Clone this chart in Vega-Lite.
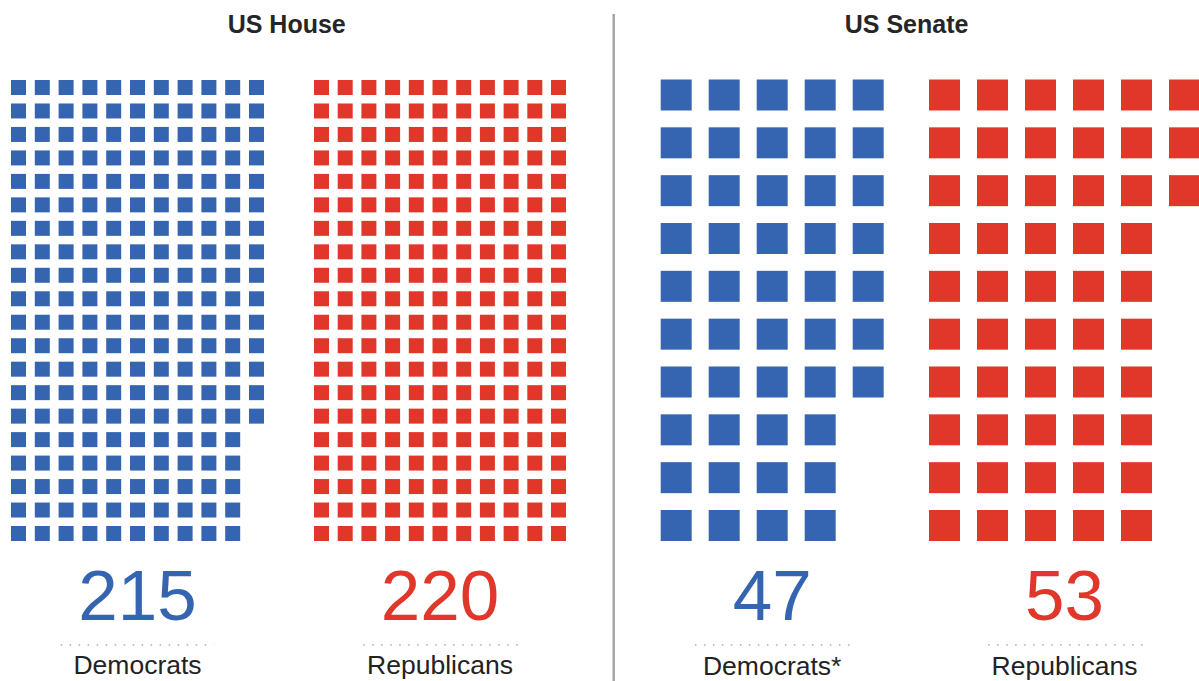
{
  "$schema": "https://vega.github.io/schema/vega-lite/v6.json",
  "width": 1199,
  "height": 681,
  "autosize": {"type": "none"},
  "padding": 0,
  "background": "white",
  "config": {"view": {"stroke": null}, "font": "Liberation Sans"},
  "datasets": {
    "hd": [
      {"r":0,"c":0},{"r":0,"c":1},{"r":0,"c":2},{"r":0,"c":3},{"r":0,"c":4},{"r":0,"c":5},{"r":0,"c":6},{"r":0,"c":7},{"r":0,"c":8},{"r":0,"c":9},{"r":0,"c":10},
      {"r":1,"c":0},{"r":1,"c":1},{"r":1,"c":2},{"r":1,"c":3},{"r":1,"c":4},{"r":1,"c":5},{"r":1,"c":6},{"r":1,"c":7},{"r":1,"c":8},{"r":1,"c":9},{"r":1,"c":10},
      {"r":2,"c":0},{"r":2,"c":1},{"r":2,"c":2},{"r":2,"c":3},{"r":2,"c":4},{"r":2,"c":5},{"r":2,"c":6},{"r":2,"c":7},{"r":2,"c":8},{"r":2,"c":9},{"r":2,"c":10},
      {"r":3,"c":0},{"r":3,"c":1},{"r":3,"c":2},{"r":3,"c":3},{"r":3,"c":4},{"r":3,"c":5},{"r":3,"c":6},{"r":3,"c":7},{"r":3,"c":8},{"r":3,"c":9},{"r":3,"c":10},
      {"r":4,"c":0},{"r":4,"c":1},{"r":4,"c":2},{"r":4,"c":3},{"r":4,"c":4},{"r":4,"c":5},{"r":4,"c":6},{"r":4,"c":7},{"r":4,"c":8},{"r":4,"c":9},{"r":4,"c":10},
      {"r":5,"c":0},{"r":5,"c":1},{"r":5,"c":2},{"r":5,"c":3},{"r":5,"c":4},{"r":5,"c":5},{"r":5,"c":6},{"r":5,"c":7},{"r":5,"c":8},{"r":5,"c":9},{"r":5,"c":10},
      {"r":6,"c":0},{"r":6,"c":1},{"r":6,"c":2},{"r":6,"c":3},{"r":6,"c":4},{"r":6,"c":5},{"r":6,"c":6},{"r":6,"c":7},{"r":6,"c":8},{"r":6,"c":9},{"r":6,"c":10},
      {"r":7,"c":0},{"r":7,"c":1},{"r":7,"c":2},{"r":7,"c":3},{"r":7,"c":4},{"r":7,"c":5},{"r":7,"c":6},{"r":7,"c":7},{"r":7,"c":8},{"r":7,"c":9},{"r":7,"c":10},
      {"r":8,"c":0},{"r":8,"c":1},{"r":8,"c":2},{"r":8,"c":3},{"r":8,"c":4},{"r":8,"c":5},{"r":8,"c":6},{"r":8,"c":7},{"r":8,"c":8},{"r":8,"c":9},{"r":8,"c":10},
      {"r":9,"c":0},{"r":9,"c":1},{"r":9,"c":2},{"r":9,"c":3},{"r":9,"c":4},{"r":9,"c":5},{"r":9,"c":6},{"r":9,"c":7},{"r":9,"c":8},{"r":9,"c":9},{"r":9,"c":10},
      {"r":10,"c":0},{"r":10,"c":1},{"r":10,"c":2},{"r":10,"c":3},{"r":10,"c":4},{"r":10,"c":5},{"r":10,"c":6},{"r":10,"c":7},{"r":10,"c":8},{"r":10,"c":9},{"r":10,"c":10},
      {"r":11,"c":0},{"r":11,"c":1},{"r":11,"c":2},{"r":11,"c":3},{"r":11,"c":4},{"r":11,"c":5},{"r":11,"c":6},{"r":11,"c":7},{"r":11,"c":8},{"r":11,"c":9},{"r":11,"c":10},
      {"r":12,"c":0},{"r":12,"c":1},{"r":12,"c":2},{"r":12,"c":3},{"r":12,"c":4},{"r":12,"c":5},{"r":12,"c":6},{"r":12,"c":7},{"r":12,"c":8},{"r":12,"c":9},{"r":12,"c":10},
      {"r":13,"c":0},{"r":13,"c":1},{"r":13,"c":2},{"r":13,"c":3},{"r":13,"c":4},{"r":13,"c":5},{"r":13,"c":6},{"r":13,"c":7},{"r":13,"c":8},{"r":13,"c":9},{"r":13,"c":10},
      {"r":14,"c":0},{"r":14,"c":1},{"r":14,"c":2},{"r":14,"c":3},{"r":14,"c":4},{"r":14,"c":5},{"r":14,"c":6},{"r":14,"c":7},{"r":14,"c":8},{"r":14,"c":9},{"r":14,"c":10},
      {"r":15,"c":0},{"r":15,"c":1},{"r":15,"c":2},{"r":15,"c":3},{"r":15,"c":4},{"r":15,"c":5},{"r":15,"c":6},{"r":15,"c":7},{"r":15,"c":8},{"r":15,"c":9},
      {"r":16,"c":0},{"r":16,"c":1},{"r":16,"c":2},{"r":16,"c":3},{"r":16,"c":4},{"r":16,"c":5},{"r":16,"c":6},{"r":16,"c":7},{"r":16,"c":8},{"r":16,"c":9},
      {"r":17,"c":0},{"r":17,"c":1},{"r":17,"c":2},{"r":17,"c":3},{"r":17,"c":4},{"r":17,"c":5},{"r":17,"c":6},{"r":17,"c":7},{"r":17,"c":8},{"r":17,"c":9},
      {"r":18,"c":0},{"r":18,"c":1},{"r":18,"c":2},{"r":18,"c":3},{"r":18,"c":4},{"r":18,"c":5},{"r":18,"c":6},{"r":18,"c":7},{"r":18,"c":8},{"r":18,"c":9},
      {"r":19,"c":0},{"r":19,"c":1},{"r":19,"c":2},{"r":19,"c":3},{"r":19,"c":4},{"r":19,"c":5},{"r":19,"c":6},{"r":19,"c":7},{"r":19,"c":8},{"r":19,"c":9}
    ],
    "hr": [
      {"r":0,"c":0},{"r":0,"c":1},{"r":0,"c":2},{"r":0,"c":3},{"r":0,"c":4},{"r":0,"c":5},{"r":0,"c":6},{"r":0,"c":7},{"r":0,"c":8},{"r":0,"c":9},{"r":0,"c":10},
      {"r":1,"c":0},{"r":1,"c":1},{"r":1,"c":2},{"r":1,"c":3},{"r":1,"c":4},{"r":1,"c":5},{"r":1,"c":6},{"r":1,"c":7},{"r":1,"c":8},{"r":1,"c":9},{"r":1,"c":10},
      {"r":2,"c":0},{"r":2,"c":1},{"r":2,"c":2},{"r":2,"c":3},{"r":2,"c":4},{"r":2,"c":5},{"r":2,"c":6},{"r":2,"c":7},{"r":2,"c":8},{"r":2,"c":9},{"r":2,"c":10},
      {"r":3,"c":0},{"r":3,"c":1},{"r":3,"c":2},{"r":3,"c":3},{"r":3,"c":4},{"r":3,"c":5},{"r":3,"c":6},{"r":3,"c":7},{"r":3,"c":8},{"r":3,"c":9},{"r":3,"c":10},
      {"r":4,"c":0},{"r":4,"c":1},{"r":4,"c":2},{"r":4,"c":3},{"r":4,"c":4},{"r":4,"c":5},{"r":4,"c":6},{"r":4,"c":7},{"r":4,"c":8},{"r":4,"c":9},{"r":4,"c":10},
      {"r":5,"c":0},{"r":5,"c":1},{"r":5,"c":2},{"r":5,"c":3},{"r":5,"c":4},{"r":5,"c":5},{"r":5,"c":6},{"r":5,"c":7},{"r":5,"c":8},{"r":5,"c":9},{"r":5,"c":10},
      {"r":6,"c":0},{"r":6,"c":1},{"r":6,"c":2},{"r":6,"c":3},{"r":6,"c":4},{"r":6,"c":5},{"r":6,"c":6},{"r":6,"c":7},{"r":6,"c":8},{"r":6,"c":9},{"r":6,"c":10},
      {"r":7,"c":0},{"r":7,"c":1},{"r":7,"c":2},{"r":7,"c":3},{"r":7,"c":4},{"r":7,"c":5},{"r":7,"c":6},{"r":7,"c":7},{"r":7,"c":8},{"r":7,"c":9},{"r":7,"c":10},
      {"r":8,"c":0},{"r":8,"c":1},{"r":8,"c":2},{"r":8,"c":3},{"r":8,"c":4},{"r":8,"c":5},{"r":8,"c":6},{"r":8,"c":7},{"r":8,"c":8},{"r":8,"c":9},{"r":8,"c":10},
      {"r":9,"c":0},{"r":9,"c":1},{"r":9,"c":2},{"r":9,"c":3},{"r":9,"c":4},{"r":9,"c":5},{"r":9,"c":6},{"r":9,"c":7},{"r":9,"c":8},{"r":9,"c":9},{"r":9,"c":10},
      {"r":10,"c":0},{"r":10,"c":1},{"r":10,"c":2},{"r":10,"c":3},{"r":10,"c":4},{"r":10,"c":5},{"r":10,"c":6},{"r":10,"c":7},{"r":10,"c":8},{"r":10,"c":9},{"r":10,"c":10},
      {"r":11,"c":0},{"r":11,"c":1},{"r":11,"c":2},{"r":11,"c":3},{"r":11,"c":4},{"r":11,"c":5},{"r":11,"c":6},{"r":11,"c":7},{"r":11,"c":8},{"r":11,"c":9},{"r":11,"c":10},
      {"r":12,"c":0},{"r":12,"c":1},{"r":12,"c":2},{"r":12,"c":3},{"r":12,"c":4},{"r":12,"c":5},{"r":12,"c":6},{"r":12,"c":7},{"r":12,"c":8},{"r":12,"c":9},{"r":12,"c":10},
      {"r":13,"c":0},{"r":13,"c":1},{"r":13,"c":2},{"r":13,"c":3},{"r":13,"c":4},{"r":13,"c":5},{"r":13,"c":6},{"r":13,"c":7},{"r":13,"c":8},{"r":13,"c":9},{"r":13,"c":10},
      {"r":14,"c":0},{"r":14,"c":1},{"r":14,"c":2},{"r":14,"c":3},{"r":14,"c":4},{"r":14,"c":5},{"r":14,"c":6},{"r":14,"c":7},{"r":14,"c":8},{"r":14,"c":9},{"r":14,"c":10},
      {"r":15,"c":0},{"r":15,"c":1},{"r":15,"c":2},{"r":15,"c":3},{"r":15,"c":4},{"r":15,"c":5},{"r":15,"c":6},{"r":15,"c":7},{"r":15,"c":8},{"r":15,"c":9},{"r":15,"c":10},
      {"r":16,"c":0},{"r":16,"c":1},{"r":16,"c":2},{"r":16,"c":3},{"r":16,"c":4},{"r":16,"c":5},{"r":16,"c":6},{"r":16,"c":7},{"r":16,"c":8},{"r":16,"c":9},{"r":16,"c":10},
      {"r":17,"c":0},{"r":17,"c":1},{"r":17,"c":2},{"r":17,"c":3},{"r":17,"c":4},{"r":17,"c":5},{"r":17,"c":6},{"r":17,"c":7},{"r":17,"c":8},{"r":17,"c":9},{"r":17,"c":10},
      {"r":18,"c":0},{"r":18,"c":1},{"r":18,"c":2},{"r":18,"c":3},{"r":18,"c":4},{"r":18,"c":5},{"r":18,"c":6},{"r":18,"c":7},{"r":18,"c":8},{"r":18,"c":9},{"r":18,"c":10},
      {"r":19,"c":0},{"r":19,"c":1},{"r":19,"c":2},{"r":19,"c":3},{"r":19,"c":4},{"r":19,"c":5},{"r":19,"c":6},{"r":19,"c":7},{"r":19,"c":8},{"r":19,"c":9},{"r":19,"c":10}
    ],
    "sd": [
      {"r":0,"c":0},{"r":0,"c":1},{"r":0,"c":2},{"r":0,"c":3},{"r":0,"c":4},
      {"r":1,"c":0},{"r":1,"c":1},{"r":1,"c":2},{"r":1,"c":3},{"r":1,"c":4},
      {"r":2,"c":0},{"r":2,"c":1},{"r":2,"c":2},{"r":2,"c":3},{"r":2,"c":4},
      {"r":3,"c":0},{"r":3,"c":1},{"r":3,"c":2},{"r":3,"c":3},{"r":3,"c":4},
      {"r":4,"c":0},{"r":4,"c":1},{"r":4,"c":2},{"r":4,"c":3},{"r":4,"c":4},
      {"r":5,"c":0},{"r":5,"c":1},{"r":5,"c":2},{"r":5,"c":3},{"r":5,"c":4},
      {"r":6,"c":0},{"r":6,"c":1},{"r":6,"c":2},{"r":6,"c":3},{"r":6,"c":4},
      {"r":7,"c":0},{"r":7,"c":1},{"r":7,"c":2},{"r":7,"c":3},
      {"r":8,"c":0},{"r":8,"c":1},{"r":8,"c":2},{"r":8,"c":3},
      {"r":9,"c":0},{"r":9,"c":1},{"r":9,"c":2},{"r":9,"c":3}
    ],
    "sr": [
      {"r":0,"c":0},{"r":0,"c":1},{"r":0,"c":2},{"r":0,"c":3},{"r":0,"c":4},{"r":0,"c":5},
      {"r":1,"c":0},{"r":1,"c":1},{"r":1,"c":2},{"r":1,"c":3},{"r":1,"c":4},{"r":1,"c":5},
      {"r":2,"c":0},{"r":2,"c":1},{"r":2,"c":2},{"r":2,"c":3},{"r":2,"c":4},{"r":2,"c":5},
      {"r":3,"c":0},{"r":3,"c":1},{"r":3,"c":2},{"r":3,"c":3},{"r":3,"c":4},
      {"r":4,"c":0},{"r":4,"c":1},{"r":4,"c":2},{"r":4,"c":3},{"r":4,"c":4},
      {"r":5,"c":0},{"r":5,"c":1},{"r":5,"c":2},{"r":5,"c":3},{"r":5,"c":4},
      {"r":6,"c":0},{"r":6,"c":1},{"r":6,"c":2},{"r":6,"c":3},{"r":6,"c":4},
      {"r":7,"c":0},{"r":7,"c":1},{"r":7,"c":2},{"r":7,"c":3},{"r":7,"c":4},
      {"r":8,"c":0},{"r":8,"c":1},{"r":8,"c":2},{"r":8,"c":3},{"r":8,"c":4},
      {"r":9,"c":0},{"r":9,"c":1},{"r":9,"c":2},{"r":9,"c":3},{"r":9,"c":4}
    ]
  },
  "layer": [
    {
      "layer": [
        {
          "data": {"name": "hd"},
          "mark": {"type": "square", "size": 225, "opacity": 1, "color": "#3565b1"},
          "encoding": {
            "x": {"field": "c", "type": "quantitative", "axis": null, "scale": {"domain": [0, 10], "range": [18.5, 256.5], "nice": false, "zero": false}},
            "y": {"field": "r", "type": "quantitative", "axis": null, "scale": {"domain": [0, 19], "range": [87.5, 533.5], "nice": false, "zero": false}}
          }
        },
        {
          "data": {"values": [{"seats": 215, "party": "Democrats", "chamber": "US House"}]},
          "layer": [
            {
              "mark": {"type": "text", "fontSize": 71, "color": "#3565b1", "align": "center", "baseline": "alphabetic"},
              "encoding": {
                "text": {"field": "seats", "type": "quantitative"},
                "x": {"datum": 5, "type": "quantitative", "scale": {"domain": [0, 10], "range": [18.5, 256.5], "nice": false, "zero": false}},
                "y": {"datum": 22.68, "type": "quantitative", "scale": {"domain": [0, 19], "range": [87.5, 533.5], "nice": false, "zero": false}}
              }
            },
            {
              "mark": {"type": "rule", "strokeDash": [1.5, 7.5], "strokeWidth": 1.5, "color": "#aaaaaa"},
              "encoding": {
                "x": {"datum": 1.77, "type": "quantitative", "scale": {"domain": [0, 10], "range": [18.5, 256.5], "nice": false, "zero": false}},
                "x2": {"datum": 8.21},
                "y": {"datum": 23.75, "type": "quantitative", "scale": {"domain": [0, 19], "range": [87.5, 533.5], "nice": false, "zero": false}}
              }
            },
            {
              "mark": {"type": "text", "fontSize": 26.5, "color": "#222222", "align": "center", "baseline": "alphabetic"},
              "encoding": {
                "text": {"field": "party", "type": "nominal"},
                "x": {"datum": 5, "type": "quantitative", "scale": {"domain": [0, 10], "range": [18.5, 256.5], "nice": false, "zero": false}},
                "y": {"datum": 25.0, "type": "quantitative", "scale": {"domain": [0, 19], "range": [87.5, 533.5], "nice": false, "zero": false}}
              }
            },
            {
              "mark": {"type": "text", "fontSize": 25, "fontWeight": "bold", "color": "#262626", "align": "center", "baseline": "alphabetic"},
              "encoding": {
                "text": {"field": "chamber", "type": "nominal"},
                "x": {"datum": 11.27, "type": "quantitative", "scale": {"domain": [0, 10], "range": [18.5, 256.5], "nice": false, "zero": false}},
                "y": {"datum": -2.31, "type": "quantitative", "scale": {"domain": [0, 19], "range": [87.5, 533.5], "nice": false, "zero": false}}
              }
            }
          ]
        }
      ]
    },
    {
      "layer": [
        {
          "data": {"name": "hr"},
          "mark": {"type": "square", "size": 225, "opacity": 1, "color": "#e0372a"},
          "encoding": {
            "x": {"field": "c", "type": "quantitative", "axis": null, "scale": {"domain": [0, 10], "range": [321.5, 558.5], "nice": false, "zero": false}},
            "y": {"field": "r", "type": "quantitative", "axis": null, "scale": {"domain": [0, 19], "range": [87.5, 533.5], "nice": false, "zero": false}}
          }
        },
        {
          "data": {"values": [{"seats": 220, "party": "Republicans"}]},
          "layer": [
            {
              "mark": {"type": "text", "fontSize": 71, "color": "#e0372a", "align": "center", "baseline": "alphabetic"},
              "encoding": {
                "text": {"field": "seats", "type": "quantitative"},
                "x": {"datum": 5, "type": "quantitative", "scale": {"domain": [0, 10], "range": [321.5, 558.5], "nice": false, "zero": false}},
                "y": {"datum": 22.68, "type": "quantitative", "scale": {"domain": [0, 19], "range": [87.5, 533.5], "nice": false, "zero": false}}
              }
            },
            {
              "mark": {"type": "rule", "strokeDash": [1.5, 7.5], "strokeWidth": 1.5, "color": "#aaaaaa"},
              "encoding": {
                "x": {"datum": 1.76, "type": "quantitative", "scale": {"domain": [0, 10], "range": [321.5, 558.5], "nice": false, "zero": false}},
                "x2": {"datum": 8.3},
                "y": {"datum": 23.75, "type": "quantitative", "scale": {"domain": [0, 19], "range": [87.5, 533.5], "nice": false, "zero": false}}
              }
            },
            {
              "mark": {"type": "text", "fontSize": 26.5, "color": "#222222", "align": "center", "baseline": "alphabetic"},
              "encoding": {
                "text": {"field": "party", "type": "nominal"},
                "x": {"datum": 5, "type": "quantitative", "scale": {"domain": [0, 10], "range": [321.5, 558.5], "nice": false, "zero": false}},
                "y": {"datum": 25.0, "type": "quantitative", "scale": {"domain": [0, 19], "range": [87.5, 533.5], "nice": false, "zero": false}}
              }
            },
            {
              "mark": {"type": "rule", "strokeWidth": 2.5, "color": "#a6a6a6"},
              "encoding": {
                "x": {"datum": 12.33, "type": "quantitative", "scale": {"domain": [0, 10], "range": [321.5, 558.5], "nice": false, "zero": false}},
                "y": {"datum": -3.13, "type": "quantitative", "scale": {"domain": [0, 19], "range": [87.5, 533.5], "nice": false, "zero": false}},
                "y2": {"datum": 26}
              }
            }
          ]
        }
      ]
    },
    {
      "layer": [
        {
          "data": {"name": "sd"},
          "mark": {"type": "square", "size": 961, "opacity": 1, "color": "#3565b1"},
          "encoding": {
            "x": {"field": "c", "type": "quantitative", "axis": null, "scale": {"domain": [0, 4], "range": [676.2, 868.2], "nice": false, "zero": false}},
            "y": {"field": "r", "type": "quantitative", "axis": null, "scale": {"domain": [0, 9], "range": [95, 525.5], "nice": false, "zero": false}}
          }
        },
        {
          "data": {"values": [{"seats": 47, "party": "Democrats*", "chamber": "US Senate"}]},
          "layer": [
            {
              "mark": {"type": "text", "fontSize": 71, "color": "#3565b1", "align": "center", "baseline": "alphabetic"},
              "encoding": {
                "text": {"field": "seats", "type": "quantitative"},
                "x": {"datum": 2, "type": "quantitative", "scale": {"domain": [0, 4], "range": [676.2, 868.2], "nice": false, "zero": false}},
                "y": {"datum": 10.98, "type": "quantitative", "scale": {"domain": [0, 9], "range": [95, 525.5], "nice": false, "zero": false}}
              }
            },
            {
              "mark": {"type": "rule", "strokeDash": [1.5, 7.5], "strokeWidth": 1.5, "color": "#aaaaaa"},
              "encoding": {
                "x": {"datum": 0.39, "type": "quantitative", "scale": {"domain": [0, 4], "range": [676.2, 868.2], "nice": false, "zero": false}},
                "x2": {"datum": 3.62},
                "y": {"datum": 11.5, "type": "quantitative", "scale": {"domain": [0, 9], "range": [95, 525.5], "nice": false, "zero": false}}
              }
            },
            {
              "mark": {"type": "text", "fontSize": 26.5, "color": "#222222", "align": "center", "baseline": "alphabetic"},
              "encoding": {
                "text": {"field": "party", "type": "nominal"},
                "x": {"datum": 2, "type": "quantitative", "scale": {"domain": [0, 4], "range": [676.2, 868.2], "nice": false, "zero": false}},
                "y": {"datum": 12.12, "type": "quantitative", "scale": {"domain": [0, 9], "range": [95, 525.5], "nice": false, "zero": false}}
              }
            },
            {
              "mark": {"type": "text", "fontSize": 25, "fontWeight": "bold", "color": "#262626", "align": "center", "baseline": "alphabetic"},
              "encoding": {
                "text": {"field": "chamber", "type": "nominal"},
                "x": {"datum": 4.8, "type": "quantitative", "scale": {"domain": [0, 4], "range": [676.2, 868.2], "nice": false, "zero": false}},
                "y": {"datum": -1.29, "type": "quantitative", "scale": {"domain": [0, 9], "range": [95, 525.5], "nice": false, "zero": false}}
              }
            }
          ]
        }
      ]
    },
    {
      "layer": [
        {
          "data": {"name": "sr"},
          "mark": {"type": "square", "size": 961, "opacity": 1, "color": "#e0372a"},
          "encoding": {
            "x": {"field": "c", "type": "quantitative", "axis": null, "scale": {"domain": [0, 5], "range": [944.5, 1184.5], "nice": false, "zero": false}},
            "y": {"field": "r", "type": "quantitative", "axis": null, "scale": {"domain": [0, 9], "range": [95, 525.5], "nice": false, "zero": false}}
          }
        },
        {
          "data": {"values": [{"seats": 53, "party": "Republicans"}]},
          "layer": [
            {
              "mark": {"type": "text", "fontSize": 71, "color": "#e0372a", "align": "center", "baseline": "alphabetic"},
              "encoding": {
                "text": {"field": "seats", "type": "quantitative"},
                "x": {"datum": 2.5, "type": "quantitative", "scale": {"domain": [0, 5], "range": [944.5, 1184.5], "nice": false, "zero": false}},
                "y": {"datum": 10.98, "type": "quantitative", "scale": {"domain": [0, 9], "range": [95, 525.5], "nice": false, "zero": false}}
              }
            },
            {
              "mark": {"type": "rule", "strokeDash": [1.5, 7.5], "strokeWidth": 1.5, "color": "#aaaaaa"},
              "encoding": {
                "x": {"datum": 0.91, "type": "quantitative", "scale": {"domain": [0, 5], "range": [944.5, 1184.5], "nice": false, "zero": false}},
                "x2": {"datum": 4.13},
                "y": {"datum": 11.5, "type": "quantitative", "scale": {"domain": [0, 9], "range": [95, 525.5], "nice": false, "zero": false}}
              }
            },
            {
              "mark": {"type": "text", "fontSize": 26.5, "color": "#222222", "align": "center", "baseline": "alphabetic"},
              "encoding": {
                "text": {"field": "party", "type": "nominal"},
                "x": {"datum": 2.5, "type": "quantitative", "scale": {"domain": [0, 5], "range": [944.5, 1184.5], "nice": false, "zero": false}},
                "y": {"datum": 12.12, "type": "quantitative", "scale": {"domain": [0, 9], "range": [95, 525.5], "nice": false, "zero": false}}
              }
            }
          ]
        }
      ]
    }
  ],
  "resolve": {"scale": {"x": "independent", "y": "independent"}}
}
